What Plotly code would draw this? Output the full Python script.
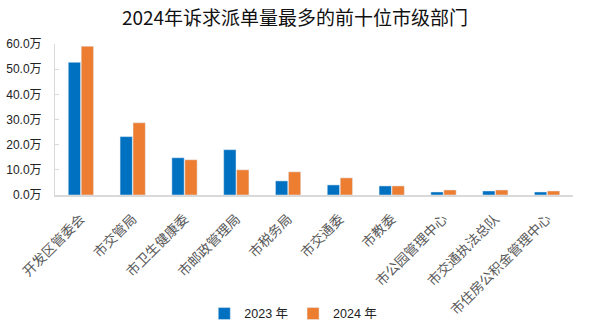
import plotly.graph_objects as go

categories = ["开发区管委会", "市交管局", "市卫生健康委", "市邮政管理局", "市税务局",
              "市交通委", "市教委", "市公园管理中心", "市交通执法总队", "市住房公积金管理中心"]
v2023 = [52.7, 23.2, 14.8, 18.0, 5.6, 4.0, 3.6, 1.2, 1.6, 1.2]
v2024 = [59.1, 28.7, 14.0, 10.0, 9.2, 6.8, 3.6, 2.0, 2.0, 1.6]
ytickvals = [0, 10, 20, 30, 40, 50, 60]
yticktext = [f"{v:.1f}万" for v in ytickvals]

fig = go.Figure()
fig.add_trace(go.Bar(x=categories, y=v2023, name="2023 年", marker_color="#0070C0"))
fig.add_trace(go.Bar(x=categories, y=v2024, name="2024 年", marker_color="#ED7D31"))

fig.update_layout(
    width=590, height=326,
    margin=dict(l=55, r=17, t=44, b=131, autoexpand=False),
    paper_bgcolor="white", plot_bgcolor="white",
    barmode="group", bargap=0.5, bargroupgap=0.05,
    font=dict(family="Noto Sans CJK SC", color="#404040"),
    title=dict(text="2024年诉求派单量最多的前十位市级部门", x=0.5, xanchor="center",
               y=0.945, yanchor="middle",
               font=dict(size=19, color="#111111", family="Noto Sans CJK SC")),
    showlegend=True,
    legend=dict(orientation="h", x=0.46, xanchor="center",
                yref="container", y=0.037, yanchor="middle",
                font=dict(size=12.5, color="#222222", family="Liberation Sans, Noto Sans CJK SC"),
                itemwidth=30, traceorder="normal"),
    xaxis=dict(showline=True, linecolor="#d9d9d9", linewidth=1.5, tickangle=-45,
               tickfont=dict(size=13.5, color="#595959", family="Noto Sans CJK SC"),
               ticks="", showgrid=False, automargin=False, ticklabelstandoff=9),
    yaxis=dict(range=[0, 60], tickvals=ytickvals, ticktext=yticktext,
               showline=True, linecolor="#d9d9d9", linewidth=1,
               ticks="inside", ticklen=4, tickcolor="#d9d9d9",
               showgrid=False, zeroline=False, automargin=False,
               ticklabelstandoff=10,
               tickfont=dict(size=12, color="#222222", family="Liberation Sans, Noto Sans CJK SC")),
)

fig.write_html("out.html")
